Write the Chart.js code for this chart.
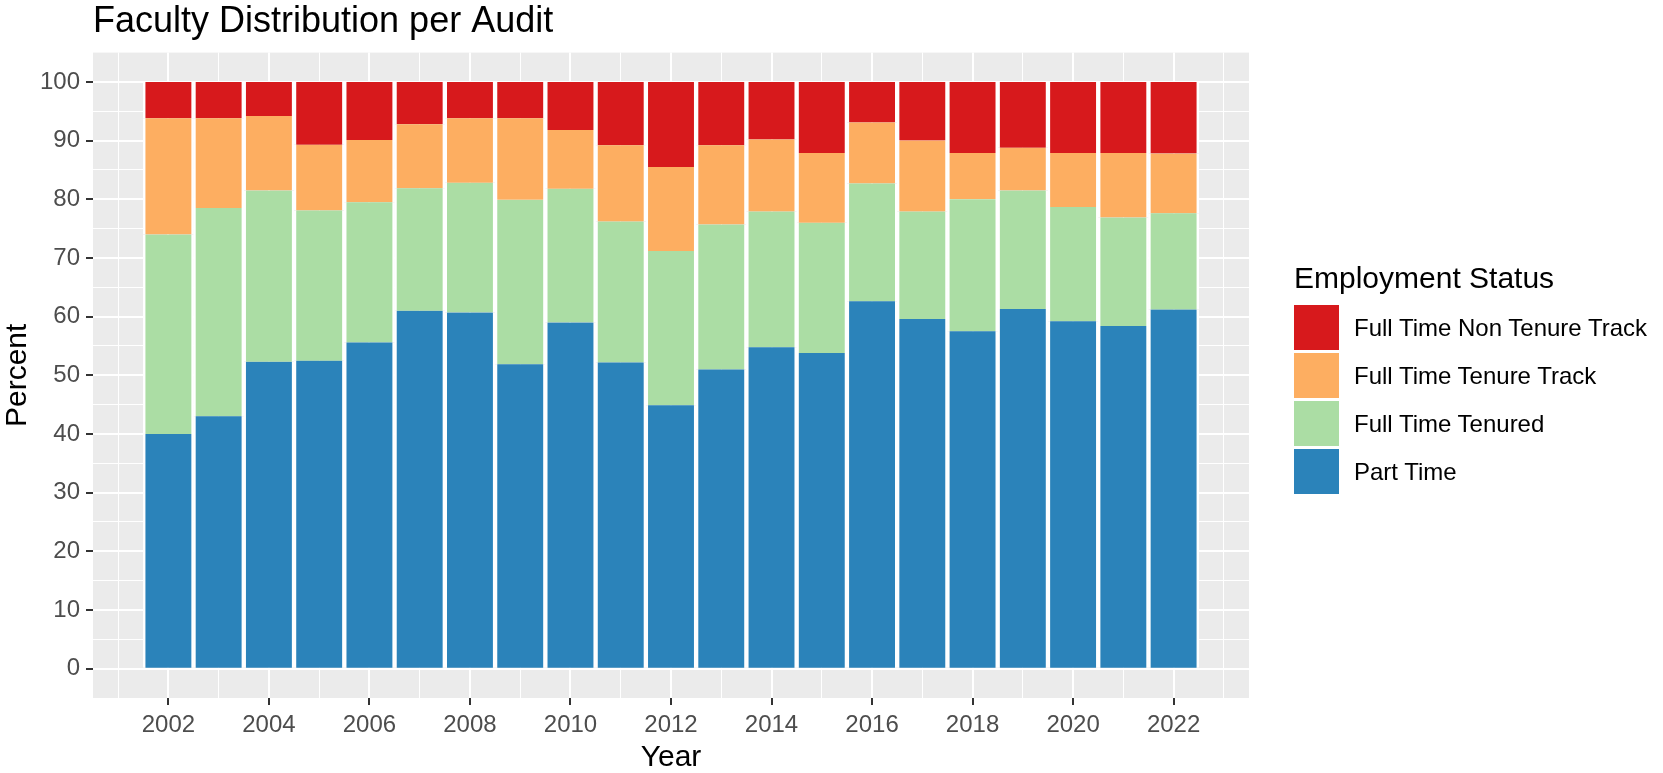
<!DOCTYPE html>
<html>
<head>
<meta charset="utf-8">
<title>Faculty Distribution per Audit</title>
<script src="https://cdn.jsdelivr.net/npm/chart.js@4.4.1/dist/chart.umd.min.js"></script>
<style>
  html, body { margin: 0; padding: 0; background: #fff; }
  #wrap { position: relative; width: 1663px; height: 773px; font-family: "Liberation Sans", Arial, sans-serif; }
  #facultyChart { position: absolute; left: 0; top: 0; }
  #legend { position: absolute; left: 1294px; top: 263px; width: 369px; }
  #legend .title { position: absolute; left: 0; top: 0; font-size: 30px; line-height: 30px; color: #000; white-space: nowrap; }
  #legend .key { position: absolute; left: 0; width: 45px; height: 45px; }
  #legend .label { position: absolute; left: 60px; font-size: 24px; line-height: 45px; color: #000; white-space: nowrap; }
</style>
</head>
<body>
<div id="wrap">
  <canvas id="facultyChart" width="1663" height="773"></canvas>
  <div id="legend"></div>
</div>
<script>
// audit years and percent of faculty per employment status
const years = [2002, 2003, 2004, 2005, 2006, 2007, 2008, 2009, 2010, 2011, 2012,
               2013, 2014, 2015, 2016, 2017, 2018, 2019, 2020, 2021, 2022];
const partTime       = [40.0, 43.0, 52.3, 52.5, 55.6, 61.0, 60.7, 51.9, 59.0, 52.2, 44.9,
                        51.0, 54.8, 53.8, 62.6, 59.6, 57.5, 61.3, 59.2, 58.4, 61.2];
const tenured        = [34.0, 35.5, 29.2, 25.6, 23.9, 20.9, 22.1, 28.0, 22.8, 24.0, 26.3,
                        24.7, 23.1, 22.2, 20.1, 18.3, 22.5, 20.2, 19.5, 18.5, 16.4];
const tenureTrack    = [19.8, 15.3, 12.7, 11.2, 10.6, 10.9, 11.0, 13.9, 10.0, 13.0, 14.3,
                        13.5, 12.3, 11.9, 10.4, 12.1, 7.9, 7.3, 9.2, 11.0, 10.2];
const nonTenureTrack = [6.2, 6.2, 5.8, 10.7, 9.9, 7.2, 6.2, 6.2, 8.2, 10.8, 14.5,
                        10.8, 9.8, 12.1, 6.9, 10.0, 12.1, 11.2, 12.1, 12.1, 12.2];

const xTicks = [2002, 2004, 2006, 2008, 2010, 2012, 2014, 2016, 2018, 2020, 2022];
const yTicks = [0, 10, 20, 30, 40, 50, 60, 70, 80, 90, 100];

const seriesNames  = ['Part Time', 'Full Time Tenured', 'Full Time Tenure Track', 'Full Time Non Tenure Track'];
const seriesColors = ['#2B83BA', '#ABDDA4', '#FDAE61', '#D7191C'];
const seriesValues = [partTime, tenured, tenureTrack, nonTenureTrack];

// minor grid positions, like ggplot (odd years, half tens)
const xGrid = [];
for (let y = 2001; y <= 2023; y++) xGrid.push(y);
const yGrid = [];
for (let v = 0; v <= 100; v += 5) yGrid.push(v);

Chart.defaults.font.family = '"Liberation Sans", Arial, sans-serif';

const isMajor = (c, list) => !!(c.tick && list.includes(c.tick.value));

const panelBackground = {
    id: 'panelBackground',
    beforeDraw(chart) {
        const { ctx, chartArea } = chart;
        ctx.save();
        ctx.fillStyle = '#EBEBEB';
        ctx.fillRect(chartArea.left, chartArea.top, chartArea.right - chartArea.left, chartArea.bottom - chartArea.top);
        ctx.restore();
    }
};

const datasets = seriesNames.map((name, i) => ({
    label: name,
    data: years.map((yr, j) => ({ x: yr, y: seriesValues[i][j] })),
    backgroundColor: seriesColors[i],
    borderColor: '#FFFFFF',
    borderWidth: { left: 2.5, right: 2.5, top: 0, bottom: 0 },
    borderSkipped: false,
    barPercentage: 1.0,
    categoryPercentage: 1.0
}));

new Chart(document.getElementById('facultyChart'), {
    type: 'bar',
    data: { datasets: datasets },
    plugins: [panelBackground],
    options: {
        responsive: false,
        animation: false,
        layout: { padding: { left: 0, right: 414, top: 0, bottom: 0 } },
        plugins: {
            legend: { display: false },
            tooltip: { enabled: false },
            title: {
                display: true,
                text: 'Faculty Distribution per Audit',
                align: 'start',
                fullSize: false,
                color: '#000',
                font: { size: 36, weight: 'normal' },
                padding: { top: 0, bottom: 9.4 }
            }
        },
        scales: {
            x: {
                type: 'linear',
                stacked: true,
                offset: false,
                min: 2000.5,
                max: 2023.5,
                afterBuildTicks: s => { s.ticks = xGrid.map(v => ({ value: v })); },
                afterFit: s => { s.height = 75; },
                ticks: {
                    autoSkip: false,
                    maxRotation: 0,
                    padding: 6,
                    color: '#4D4D4D',
                    font: { size: 24 },
                    callback: v => xTicks.includes(v) ? String(v) : ''
                },
                grid: {
                    offset: false,
                    color: '#FFFFFF',
                    lineWidth: c => isMajor(c, xTicks) ? 2 : 1,
                    tickColor: c => isMajor(c, xTicks) ? '#333333' : 'rgba(0,0,0,0)',
                    tickWidth: 2,
                    tickLength: 7
                },
                border: { display: false },
                title: {
                    display: true,
                    text: 'Year',
                    color: '#000',
                    font: { size: 30, lineHeight: 1 },
                    padding: { top: 0, bottom: 0 }
                }
            },
            y: {
                stacked: true,
                min: -5,
                max: 105,
                afterBuildTicks: s => { s.ticks = yGrid.map(v => ({ value: v })); },
                afterFit: s => { s.width = 93; },
                ticks: {
                    padding: 6,
                    color: '#4D4D4D',
                    font: { size: 24 },
                    callback: v => yTicks.includes(v) ? String(v) : ''
                },
                grid: {
                    color: '#FFFFFF',
                    lineWidth: c => isMajor(c, yTicks) ? 2 : 1,
                    tickColor: c => isMajor(c, yTicks) ? '#333333' : 'rgba(0,0,0,0)',
                    tickWidth: 2,
                    tickLength: 7
                },
                border: { display: false },
                title: {
                    display: true,
                    text: 'Percent',
                    color: '#000',
                    font: { size: 30, lineHeight: 1 },
                    padding: { top: 3, bottom: 0 }
                }
            }
        }
    }
});

// legend, top entry is the top of the stack
const legend = document.getElementById('legend');
let html = '<div class="title">Employment Status</div>';
for (let k = seriesNames.length - 1, row = 0; k >= 0; k--, row++) {
    const top = 42 + row * 48;
    html += `<div class="key" style="top:${top}px;background:${seriesColors[k]}"></div>`;
    html += `<div class="label" style="top:${top}px">${seriesNames[k]}</div>`;
}
legend.innerHTML = html;
</script>
</body>
</html>
